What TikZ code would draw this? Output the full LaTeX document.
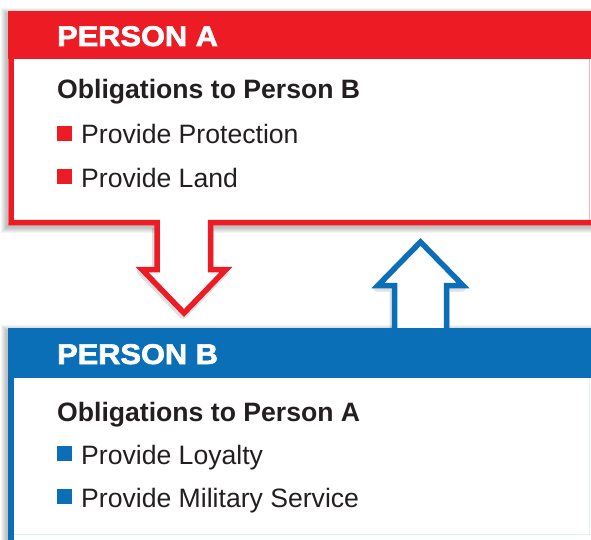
\documentclass[tikz,border=0pt]{standalone}
\usepackage{fontspec}
\setmainfont{Liberation Sans}
\newfontface\heavyfont{Liberation Sans Bold}[FakeBold=2.2]
\definecolor{pred}{HTML}{ED1C24}
\definecolor{pblue}{HTML}{0A6FB7}
\definecolor{ink}{HTML}{231F20}
\begin{document}
\begin{tikzpicture}[x=1pt,y=-1pt,
  headtext/.style={anchor=base west, inner sep=0pt, text=white,
    font=\heavyfont\fontsize{28.5}{30}\selectfont},
  obltext/.style={anchor=base west, inner sep=0pt, text=ink,
    font=\bfseries\fontsize{26.6}{30}\selectfont},
  itemtext/.style={anchor=base west, inner sep=0pt, text=ink,
    font=\fontsize{26.6}{30}\selectfont},
  bulletbox/.style={anchor=north west, inner sep=0pt, minimum size=15pt, draw=none},
  redline/.style={draw=pred, line width=5.5pt, miter limit=10},
  blueline/.style={draw=pblue, line width=5.5pt, miter limit=10},
  shadowline/.style={draw=black, opacity=0.12, line width=8pt, line join=round}
]
\useasboundingbox (0,0) rectangle (591,540);
\fill[white] (0,0) rectangle (591,540);

% soft shadows of the boxes
\foreach \r in {1,...,6} {
  \fill[black, opacity=0.045] ({7-\r},{14-\r}) rectangle (600,{227+\r});
  \fill[black, opacity=0.045] ({7-\r},{331-\r}) rectangle (600,560);
}
% shadows of arrows
\draw[shadowline, shift={(-1,2)}] (157,226) -- (157,269.5) -- (142,269.5) -- (184,313) -- (226,269.5) -- (210.5,269.5) -- (210.5,226);
\draw[shadowline, shift={(-1,2)}] (394.5,326) -- (394.5,285.5) -- (378,285.5) -- (420.5,242) -- (463,285.5) -- (446.5,285.5) -- (446.5,326);

% person A box
\fill[white] (8,11) rectangle (591,222.5);
\fill[white] (157,220) -- (157,269.5) -- (142,269.5) -- (184,313) -- (226,269.5) -- (210.5,269.5) -- (210.5,220) -- cycle;
\draw[redline] (11,40) -- (11,222.5) -- (157,222.5) -- (157,269.5) -- (142,269.5) -- (184,313)
  -- (226,269.5) -- (210.5,269.5) -- (210.5,222.5) -- (595,222.5);
\draw[pred!35, line width=1pt] (589.5,59) -- (589.5,220);
\fill[pred] (8,11) rectangle (591,59);

% blue arrow
\fill[white] (394.5,330) -- (394.5,285.5) -- (378,285.5) -- (420.5,242) -- (463,285.5) -- (446.5,285.5) -- (446.5,330) -- cycle;
\draw[blueline] (394.5,332) -- (394.5,285.5) -- (378,285.5) -- (420.5,242) -- (463,285.5) -- (446.5,285.5) -- (446.5,332);

% person B box
\fill[white] (8,378) rectangle (591,540);
\fill[pblue!12] (14,534) rectangle (591,535);
\fill[pblue!12] (589,378) rectangle (590,535);
\fill[pblue] (8,328) rectangle (591,378);
\fill[pblue] (8,378) rectangle (14,540);

% texts A
\node[headtext] (hA) at (57,46) {\scalebox{1.08}[1]{PERSON A}};
\node[obltext] (oA) at (57,99) {Obligations to Person B};
\node[bulletbox, fill=pred] (bA1) at (57,126) {};
\node[itemtext] (iA1) at (81,144) {Provide Protection};
\node[bulletbox, fill=pred] (bA2) at (57,169) {};
\node[itemtext] (iA2) at (81,187) {Provide Land};

% texts B
\node[headtext] (hB) at (57,364) {\scalebox{1.08}[1]{PERSON B}};
\node[obltext] (oB) at (57,421) {Obligations to Person A};
\node[bulletbox, fill=pblue] (bB1) at (57,446) {};
\node[itemtext] (iB1) at (81,464) {Provide Loyalty};
\node[bulletbox, fill=pblue] (bB2) at (57,489) {};
\node[itemtext] (iB2) at (81,507) {Provide Military Service};
\end{tikzpicture}
\end{document}
